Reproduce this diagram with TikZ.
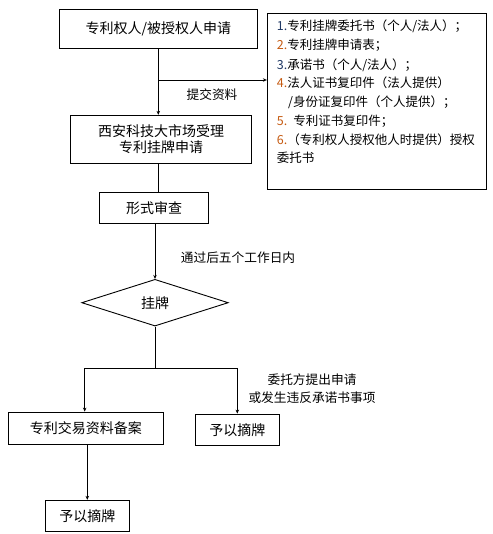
\documentclass[tikz,border=0pt]{standalone}
\usepackage{fontspec}
\setmainfont{Noto Sans CJK SC}
\usetikzlibrary{shapes.geometric,arrows.meta}
\definecolor{numblue}{RGB}{31,56,100}
\definecolor{numorange}{RGB}{197,90,17}
\tikzset{
  box/.style={draw,line width=0.9pt,rectangle,inner sep=0pt,font=\fontsize{14}{17}\selectfont,align=center},
  dia/.style={draw,line width=0.9pt,diamond,inner sep=0pt,font=\fontsize{14}{17}\selectfont},
  conn/.style={line width=0.8pt},
  arr/.style={line width=0.8pt,-{Stealth[length=4pt,width=3.5pt]}},
  lab/.style={font=\fontsize{12.7}{18.5}\selectfont,inner sep=0pt,align=center},
  item/.style={font=\fontsize{12.5}{15}\selectfont,inner sep=0pt,anchor=base west},
}
\begin{document}
\begin{tikzpicture}[x=1pt,y=-1pt]
\useasboundingbox (0,0) rectangle (492,534);
% main boxes
\node[box,minimum width=198pt,minimum height=39.4pt] (b1) at (158.3,29) {专利权人/被授权人申请};
\node[box,minimum width=181pt,minimum height=48pt] (b2) at (161.2,139.3) {西安科技大市场受理\\[-1pt]专利挂牌申请};
\node[box,minimum width=219.4pt,minimum height=176pt] (mat) at (377,101.3) {};
\node[box,minimum width=109.4pt,minimum height=31pt] (b3) at (154,207.8) {形式审查};
\node[dia,minimum width=146.6pt,minimum height=46.7pt] (d) at (155,302.7) {挂牌};
\node[box,minimum width=155.7pt,minimum height=32.3pt] (b4) at (85.8,428.2) {专利交易资料备案};
\node[box,minimum width=84pt,minimum height=31.3pt] (b5) at (237.3,429.7) {予以摘牌};
\node[box,minimum width=84pt,minimum height=31pt] (b6) at (87.3,515.8) {予以摘牌};
% materials list
\node[item] (m1) at (276.7,30.8) {\textcolor{numblue}{1.}专利挂牌委托书（个人/法人）；};
\node[item] (m2) at (276.7,49.8) {\textcolor{numorange}{2.}专利挂牌申请表；};
\node[item] (m3) at (276.7,69.4) {\textcolor{numblue}{3.}承诺书（个人/法人）；};
\node[item] (m4) at (276.7,87.8) {\textcolor{numorange}{4.}法人证书复印件（法人提供）};
\node[item] (m5) at (288,106.8) {/身份证复印件（个人提供）；};
\node[item] (m6) at (276.7,125.8) {\textcolor{numorange}{5.}\hspace{6pt}专利证书复印件；};
\node[item] (m7) at (276.7,144.8) {\textcolor{numorange}{6.}（专利权人授权他人时提供）授权};
\node[item] (m8) at (276.7,162.4) {委托书};
% connectors
\draw[arr] (b1.south) -- (b1.south |- b2.north);
\coordinate (tap) at (158.3,80);
\draw[arr] (tap) -- (tap -| mat.west);
\node[lab] (l1) at (212,95) {提交资料};
\draw[conn] (b1.south |- b2.south) -- (b1.south |- b3.north);
\draw[arr] (b3.south -| d.north) -- (d.north);
\node[lab] (l2) at (238,257.7) {通过后五个工作日内};
\coordinate (split) at (155,368.3);
\coordinate (sl) at (84.7,368.3);
\coordinate (sr) at (237.3,368.3);
\draw[conn] (d.south) -- (split);
\draw[conn] (sl) -- (sr);
\draw[arr] (sl) -- (sl |- b4.north);
\draw[arr] (sr) -- (sr |- b5.north);
\node[lab] (l3) at (312,388.5) {委托方提出申请\\或发生违反承诺书事项};
\draw[arr] (b6.north |- b4.south) -- (b6.north);
\end{tikzpicture}
\end{document}
